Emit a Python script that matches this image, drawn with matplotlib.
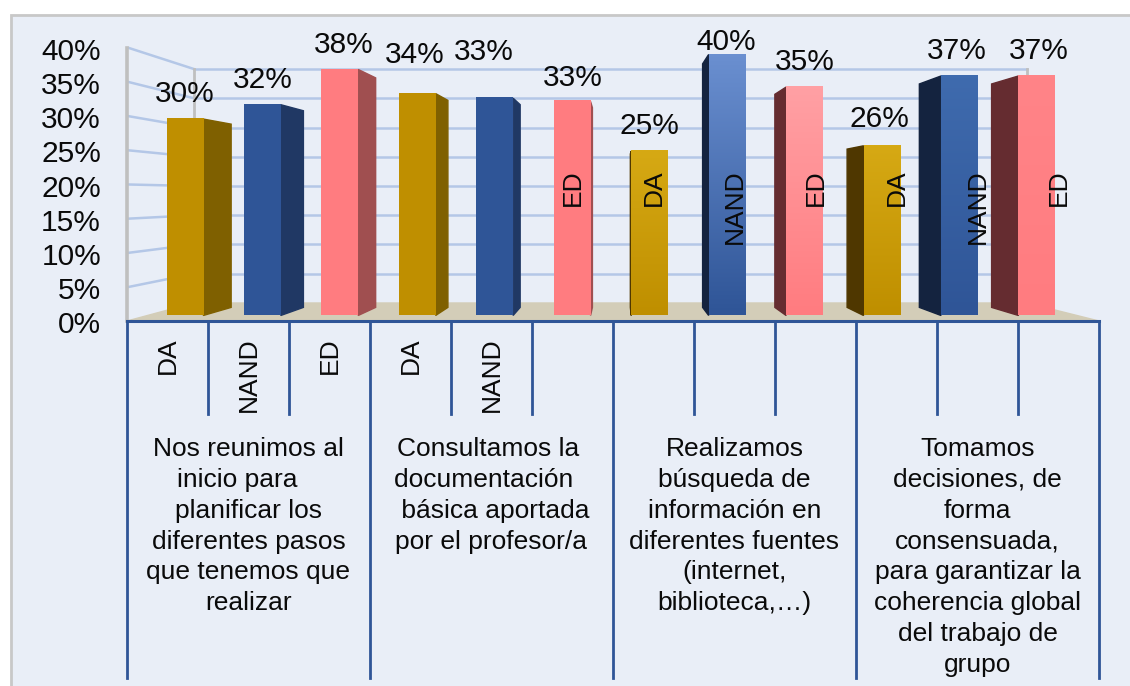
import numpy as np
import matplotlib.pyplot as plt
from matplotlib.colors import LinearSegmentedColormap
from matplotlib.patches import Rectangle

plt.rcParams['font.family'] = ['Liberation Sans', 'DejaVu Sans']

# datos
groups = ['DA', 'NAND', 'ED'] * 4
values = [30.1, 32.3, 37.7, 34.0, 33.3, 32.8, 25.2, 40.0, 35.0, 26.0, 36.7, 36.7]
y_ticks = [0, 5, 10, 15, 20, 25, 30, 35, 40]
categories = [
    'Nos reunimos al\ninicio para   \nplanificar los\ndiferentes pasos\nque tenemos que\nrealizar',
    'Consultamos la \ndocumentación  \n básica aportada\npor el profesor/a',
    'Realizamos\nbúsqueda de\ninformación en\ndiferentes fuentes\n(internet,\nbiblioteca,…)',
    'Tomamos\ndecisiones, de\nforma\nconsensuada,\npara garantizar la\ncoherencia global\ndel trabajo de\ngrupo',
]

# colores frente arriba / frente abajo / lateral
front_top = ['#BF8F00', '#2F5597', '#FF7C80', '#BF8F00', '#2F5597', '#FF7C80',
             '#D6A914', '#6A8FD0', '#FFA0A4', '#D6A914', '#3F6BAE', '#FF8488']
front_low = ['#BF8F00', '#2F5597', '#FF7C80'] * 4
side = ['#7F6000', '#203864', '#A04F50', '#7F6000', '#203864', '#A04F50',
        '#4F3700', '#14233F', '#652C30', '#4F3700', '#14233F', '#652C30']

# geometria en pixeles de la imagen
W, H = 1130, 686
X0, SLOT = 127, 81.0
Y0, PCT = 321, 6.825
VY_PX = 195
F_FRONT, F_BAR_BACK, F_WALL = 0.044, 0.108, 0.143
BAR_W = 0.475

# ajuste de las etiquetas de porcentaje (dx, dy en pixeles)
label_nudge = {2: (4, -1), 3: (-3, 14), 4: (-11, 21), 5: (1, -2), 7: (-1, -13),
               9: (-2, 2), 10: (-3, 0), 11: (2, 0)}
label_gap = 25


def dx(px):
    return (px - X0) / SLOT


def dy(px):
    return (Y0 - px) / PCT


vy = dy(VY_PX)


def project(x, y, f, vp_px=595):
    # mueve el punto hacia el punto de fuga
    vx = dx(vp_px)
    return x + f * (vx - x), y + f * (vy - y)


def front(x, y):
    return project(x, y, F_FRONT, 565)


def back(x, y):
    return project(x, y, F_BAR_BACK, 598)


fig = plt.figure(figsize=(W / 100, H / 100), dpi=100)
ax = fig.add_axes([0, 0, 1, 1])
fig.add_artist(Rectangle((11 / W, -0.02), 1.1, (H - 15) / H + 0.02, transform=fig.transFigure,
                         facecolor='#E9EEF7', edgecolor='#C8C8C8', linewidth=2, zorder=-1))
ax.axis('off')

grid_color = '#B4C7E7'
wall_color = '#BFBFBF'
axis_color = '#2F5597'

# paredes y cuadricula
for v in y_ticks[1:]:
    xs = [project(0, v, F_WALL)[0], project(12, v, F_WALL)[0]]
    ys = [project(0, v, F_WALL)[1], project(12, v, F_WALL)[1]]
    ax.plot(xs, ys, color=grid_color, lw=1.8, zorder=1)
for v in y_ticks[1:]:
    p = project(0, v, F_WALL)
    ax.plot([dx(X0 + 2), p[0]], [v, p[1]], color=grid_color, lw=1.8, zorder=1)
for xw in (0, 12):
    p0 = project(xw, 0, F_WALL)
    p1 = project(xw, 40, F_WALL)
    ax.plot([p0[0], p1[0]], [p0[1], p1[1]], color=wall_color, lw=2, zorder=1.5)
ax.plot([0, 0], [0, 40], color=wall_color, lw=2.6, zorder=2)

# suelo
f0, f1 = project(0, 0, F_WALL), project(12, 0, F_WALL)
ax.fill([0, 12, f1[0], f0[0]], [0, 0, f1[1], f0[1]], color='#D3CDB8', zorder=2)

# barras
ramp = np.linspace(1, 0, 64).reshape(-1, 1)
for i, v in enumerate(values):
    x_l = i + 0.5 - BAR_W / 2
    x_r = i + 0.5 + BAR_W / 2
    xl, yb = front(x_l, 0)
    xr, _ = front(x_r, 0)
    _, yt = front(x_l, v)

    # lateral: se ve el lado que queda hacia el punto de fuga
    edge = x_r if back(x_r, 0)[0] > xr else x_l
    fx = front(edge, 0)[0]
    bb = back(edge, 0)
    bt = back(edge, v)
    ax.fill([fx, bt[0], bb[0], fx], [yt, bt[1], bb[1], yb], color=side[i], zorder=3 + i * 0.01)

    cmap = LinearSegmentedColormap.from_list('b', [front_low[i], front_top[i]])
    ax.imshow(ramp, cmap=cmap, vmin=0, vmax=1, extent=[xl, xr, yb, yt],
              aspect='auto', interpolation='bilinear', zorder=3.5 + i * 0.01)

    # etiqueta de porcentaje
    nx, ny = label_nudge.get(i, (0, 0))
    ax.annotate(f'{round(v)}%', xy=((xl + xr) / 2, yt), xytext=(nx, label_gap + ny),
                textcoords='offset pixels', ha='center', va='center',
                fontsize=21.5, color='#0A0A0A', zorder=6)

    # etiqueta del grupo, encima de la barra en las dos ultimas categorias
    top_px = 337 if i < 5 else 169
    ax.text(i + 0.5, dy(top_px), groups[i], rotation=90, ha='center', va='top',
            fontsize=19, color='#0A0A0A', zorder=6)

# eje inferior
ax.plot([0, 12], [0, 0], color=axis_color, lw=2.2, zorder=5)
for k in range(13):
    bottom = 678 if k % 3 == 0 else 414
    ax.plot([k, k], [0, dy(bottom)], color=axis_color, lw=2, zorder=5)

# etiquetas del eje y
for v in y_ticks:
    ax.text(dx(101), v - 0.6, f'{v}%', ha='right', va='center', fontsize=21.5, color='#0A0A0A')

# categorias
for c, label in enumerate(categories):
    ax.text(c * 3 + 1.5, dy(437), label, ha='center', va='top', ma='center',
            fontsize=19, linespacing=1.36, color='#0A0A0A')

ax.set_xlim(dx(0), dx(W))
ax.set_ylim(dy(H), dy(0))

plt.savefig('out.png', dpi=100)
